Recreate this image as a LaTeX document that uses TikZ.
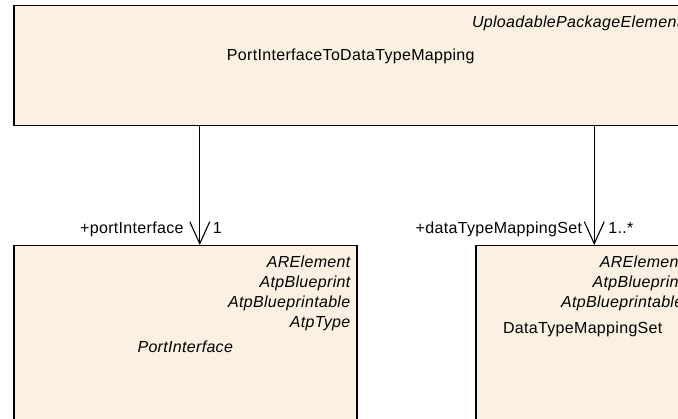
\documentclass[tikz,border=0pt]{standalone}
\usepackage{fontspec}
\setmainfont{Liberation Sans}[LetterSpace=2]
\usetikzlibrary{calc,positioning,arrows.meta}
\definecolor{classfill}{RGB}{251,240,225}
\tikzset{
    classbox/.style={rectangle, draw=black, line width=1.5pt, fill=classfill, inner sep=0pt, anchor=north west},
    stereo/.style={font=\fontsize{16}{20}\selectfont\itshape, align=right, inner sep=0pt, anchor=north east},
    classname/.style={font=\fontsize{16}{18}\selectfont, inner sep=0pt, anchor=base},
    assoc/.style={-{Straight Barb[length=22pt,width=20pt]}, line width=1.1pt},
    role/.style={font=\fontsize{16}{18}\selectfont, inner sep=0pt},
}

\begin{document}
\begin{tikzpicture}[x=1pt, y=-1pt]
        \clip (0,0) rectangle (678,419);

        % Classes
        \node[classbox, minimum width=674pt, minimum height=120pt] (mapping) at (13,5) {};
        \node[classbox, minimum width=343pt, minimum height=200pt] (iface) at (13,245) {};
        \node[classbox, minimum width=214pt, minimum height=200pt] (mappingset) at (475,245) {};

        % Stereotypes
        \node[stereo] (mappingstereo) at ($(mapping.north east)+(-7,11.2)$) {UploadablePackageElement};
        \node[stereo] (ifacestereo) at ($(iface.north east)+(-7,11.2)$)
            {ARElement\\AtpBlueprint\\AtpBlueprintable\\AtpType};
        \node[stereo] (setstereo) at ($(mappingset.north east)+(-7,11.2)$)
            {ARElement\\AtpBlueprint\\AtpBlueprintable};

        % Class names
        \node[classname] (mappingname) at ($(mapping.north)+(0,55.7)$) {PortInterfaceToDataTypeMapping};
        \node[classname, font=\fontsize{16}{18}\selectfont\itshape] (ifacename) at ($(iface.north)+(0,107.7)$) {PortInterface};
        \node[classname] (setname) at ($(mappingset.north)+(0,88.7)$) {DataTypeMappingSet};

        % Associations
        \coordinate (ifacehead) at ($(iface.north)+(14.5,0)$);
        \coordinate (sethead) at ($(mappingset.north)+(11.5,0)$);
        \draw[assoc] (mapping.south -| ifacehead) -- (ifacehead);
        \draw[assoc] (mapping.south -| sethead) -- (sethead);

        % Role names and multiplicities
        \node[role, anchor=base east] (ifacerole) at ($(ifacehead)+(-16,-11.3)$) {+portInterface};
        \node[role, anchor=base west] (ifacemult) at ($(ifacehead)+(13,-11.3)$) {1};
        \node[role, anchor=base east] (setrole) at ($(sethead)+(-12,-11.3)$) {+dataTypeMappingSet};
        \node[role, anchor=base west] (setmult) at ($(sethead)+(14,-11.3)$) {1..*};
\end{tikzpicture}
\end{document}
